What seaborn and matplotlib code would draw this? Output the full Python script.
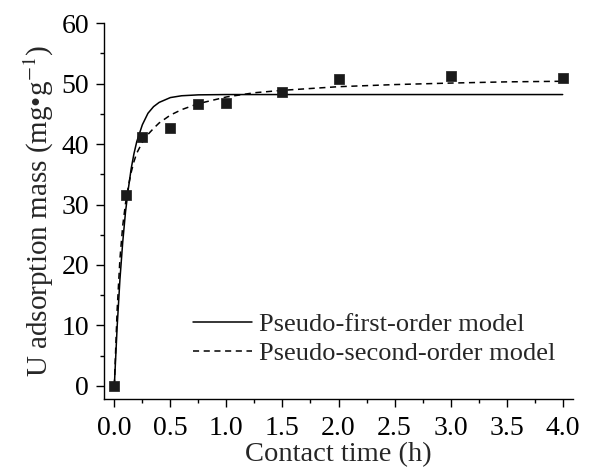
import matplotlib
matplotlib.use("Agg")
import matplotlib.pyplot as plt
import seaborn as sns
import pandas as pd
from matplotlib.ticker import MultipleLocator

time_h = [0.0, 0.1, 0.25, 0.5, 0.75, 1.0, 1.5, 2.0, 3.0, 4.0]
uptake = [0.0, 31.5, 41.2, 42.6, 46.7, 46.8, 48.7, 50.8, 51.2, 50.9]

# Model curves
curve_t = [0.0, 0.025, 0.05, 0.075, 0.1, 0.125, 0.15, 0.175, 0.2, 0.25, 0.3, 0.35,
           0.4, 0.5, 0.6, 0.75, 1.0, 1.25, 1.5, 2.0, 2.5, 3.0, 3.5, 4.0]
first_order = [0.0, 9.7, 17.6, 23.8, 28.8, 32.6, 35.9, 38.4, 40.4, 43.2, 45.1, 46.2,
               46.9, 47.7, 48.0, 48.15, 48.2, 48.2, 48.2, 48.2, 48.2, 48.2, 48.2, 48.2]
second_order = [0.0, 12.5, 21.0, 26.5, 30.2, 33.0, 35.3, 37.1, 38.5, 40.3, 41.6, 42.6,
                43.5, 44.8, 45.7, 46.7, 47.8, 48.5, 48.9, 49.5, 49.85, 50.1, 50.3, 50.4]

xlabel = "Contact time (h)"
ylabel = "U adsorption mass (mg\u2022g$^{-1}$)"
label_first = "Pseudo-first-order model"
label_second = "Pseudo-second-order model"

sns.set_theme(style="ticks")
plt.rcParams["font.family"] = ["Liberation Serif", "DejaVu Serif"]
plt.rcParams["mathtext.fontset"] = "stix"

fig = plt.figure(figsize=(5.9, 4.7), dpi=100)
ax = fig.add_axes([0.1763, 0.151, 0.7945, 0.7995])

df_pts = pd.DataFrame({"t": time_h, "q": uptake})
df_c = pd.DataFrame({"t": curve_t, "first": first_order, "second": second_order})

sns.lineplot(data=df_c, x="t", y="first", ax=ax, color="black", linewidth=1.1,
             label=label_first, sort=False)
sns.lineplot(data=df_c, x="t", y="second", ax=ax, color="black", linewidth=1.1,
             label=label_second, sort=False, linestyle=(0, (4, 3)))
sns.scatterplot(data=df_pts, x="t", y="q", ax=ax, marker="s", s=60, color="#1a1a1a",
                edgecolor="#1a1a1a", linewidth=0.5, zorder=5, legend=False)

ax.xaxis.set_major_locator(MultipleLocator(0.5))
ax.xaxis.set_minor_locator(MultipleLocator(0.25))
ax.yaxis.set_major_locator(MultipleLocator(10))
ax.yaxis.set_minor_locator(MultipleLocator(5))
ax.set_xlim(-0.092, 4.09)
ax.set_ylim(-2.2, 60)
ax.xaxis.set_major_formatter(matplotlib.ticker.FormatStrFormatter("%.1f"))

sns.despine(ax=ax)
for s in ["left", "bottom"]:
    ax.spines[s].set_linewidth(1.0)
    ax.spines[s].set_color("black")
ax.tick_params(which="major", direction="out", length=5.8, width=1.0, labelsize=20,
               colors="black")
ax.tick_params(which="minor", direction="out", length=3, width=1.0, colors="black")
ax.tick_params(axis="x", which="major", pad=6.5)
ax.tick_params(axis="y", which="major", pad=5)

ax.set_xlabel(xlabel, fontsize=20.5, labelpad=0.5)
ax.set_ylabel(ylabel, fontsize=21, labelpad=4)

ax.legend(loc="upper left", bbox_to_anchor=(0.189, 0.229), frameon=False, fontsize=19,
          handlelength=2.25, handletextpad=0.25, labelspacing=0.2, borderpad=0,
          borderaxespad=0)

fig.savefig("out.png", dpi=100)
